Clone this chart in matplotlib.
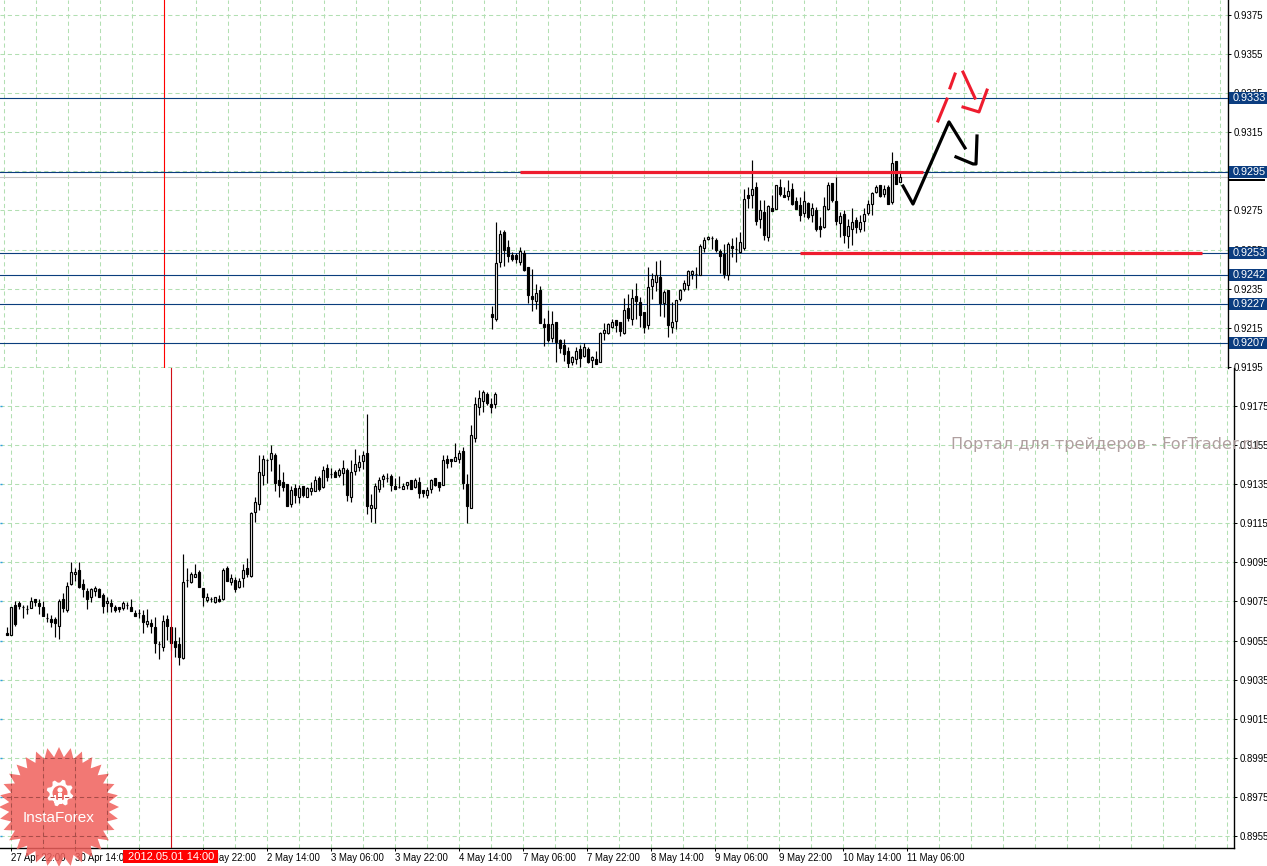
import matplotlib
matplotlib.use('Agg')
import matplotlib.pyplot as plt
from matplotlib.patches import Polygon, Circle, Rectangle
import numpy as np

# quotes in points (1 point = 0.00001), hourly candles, left part of the chart
bot_open = [90590,90580,90730,90740,90721,90713,90718,90761,90740,90720,90667,90658,90658,90626,90761,90708,90837,90888,90909,90837,90803,90771,90801,90812,90783,90740,90740,90720,90720,90718,90730,90720,90689,90689,90679,90634,90638,90617,90532,90518,90658,90617,90549,90532,90459,90858,90847,90876,90899,90817,90759,90761,90749,90761,90761,90919,90847,90859,90825,90868,90919,
    90880,91210,91249,91399,91474,91477,91499,91371,91361,91351,91249,91332,91286,91341,91286,91317,91317,91382,91337,91433,91400,91412,91397,91409,91423,91285,91419,91440,91470,91508,91230,91230,91324,91378,91380,91392,91341,91337,91327,91348,91371,91337,91361,91320,91295,91327,91382,91361,91348,91481,91477,91470,91477,91518,91351,91230,91588,91747,91777,91811,91760,91759]
bot_close = [90580,90720,90634,90728,90721,90713,90750,90749,90728,90677,90667,90646,90638,90750,90718,90827,90899,90899,90825,90812,90761,90812,90817,90771,90728,90750,90728,90706,90709,90740,90730,90699,90677,90689,90646,90648,90626,90539,90532,90648,90624,90539,90518,90467,90847,90858,90888,90888,90825,90771,90771,90761,90771,90750,90909,90856,90868,90815,90856,90909,90888,
    91201,91259,91412,91477,91474,91508,91358,91346,91337,91240,91320,91295,91331,91295,91331,91331,91371,91327,91423,91389,91400,91389,91423,91433,91295,91412,91453,91464,91498,91240,91242,91341,91371,91392,91380,91348,91327,91337,91341,91360,91327,91371,91307,91307,91320,91371,91348,91337,91474,91460,91470,91487,91508,91358,91240,91600,91759,91789,91822,91767,91747,91811]
bot_high = [90617,90720,90750,90750,90730,90730,90771,90761,90761,90750,90689,90679,90668,90761,90791,90849,90950,90919,90950,90863,90817,90817,90827,90817,90791,90774,90761,90730,90723,90750,90747,90761,90706,90709,90706,90709,90658,90668,90546,90679,90679,90621,90617,90570,90992,90921,90900,90941,90911,90817,90791,90771,90774,90783,90919,90931,90888,90876,90868,90941,90970,
    91210,91283,91499,91499,91477,91549,91508,91453,91412,91351,91341,91351,91346,91341,91337,91361,91392,91392,91443,91453,91433,91423,91431,91474,91431,91474,91528,91499,91522,91709,91300,91354,91389,91402,91409,91402,91380,91392,91354,91363,91371,91380,91385,91320,91337,91375,91382,91361,91499,91499,91477,91559,91525,91542,91402,91651,91798,91832,91832,91822,91789,91822]
bot_low = [90578,90578,90624,90709,90665,90685,90716,90726,90685,90675,90645,90617,90566,90558,90697,90697,90834,90856,90817,90771,90709,90749,90778,90771,90689,90697,90697,90697,90697,90706,90709,90699,90675,90663,90590,90621,90587,90484,90457,90498,90552,90501,90467,90426,90457,90825,90842,90873,90825,90726,90749,90747,90740,90749,90757,90856,90836,90800,90817,90825,90873,
    90875,91158,91218,91346,91354,91419,91317,91286,91317,91240,91235,91252,91256,91286,91286,91295,91317,91317,91329,91368,91380,91389,91389,91346,91266,91261,91397,91419,91426,91198,91158,91150,91312,91337,91363,91317,91327,91329,91327,91327,91327,91331,91278,91283,91278,91307,91341,91317,91346,91431,91436,91470,91457,91327,91150,91227,91566,91702,91721,91755,91716,91738]

# candles of the upper part of the chart
top_open = [92220,92196,92488,92640,92561,92524,92520,92488,92530,92459,92312,92288,92343,92169,92169,92097,92179,92087,92062,92033,91975,91988,92039,92005,92039,91985,91988,91976,92125,92125,92155,92189,92179,92125,92251,92196,92312,92282,92230,92166,92363,92384,92411,92278,92343,92155,92186,92299,92346,92367,92425,92426,92418,92558,92605,92607,92599,92544,92527,92418,
    92569,92553,92538,92557,92829,92828,92869,92708,92743,92616,92761,92760,92872,92829,92826,92862,92799,92777,92739,92790,92727,92753,92671,92667,92760,92889,92799,92688,92732,92620,92657,92702,92654,92698,92739,92783,92845,92879,92835,92869,92794,93005,92898]
top_close = [92206,92479,92629,92547,92519,92503,92500,92541,92445,92319,92299,92329,92176,92155,92087,92169,92077,92046,92016,91968,91998,92033,91995,92050,91975,91998,91964,92123,92138,92169,92179,92166,92131,92241,92200,92302,92288,92217,92155,92358,92397,92418,92278,92333,92166,92179,92292,92343,92377,92438,92438,92426,92568,92599,92616,92607,92547,92517,92425,92578,
    92560,92553,92589,92807,92812,92858,92698,92753,92627,92773,92749,92879,92835,92818,92850,92783,92760,92729,92797,92719,92761,92656,92657,92773,92879,92804,92698,92722,92625,92671,92691,92667,92691,92732,92783,92838,92869,92824,92862,92783,92991,92886,92920]
top_high = [92261,92691,92650,92650,92599,92539,92530,92561,92547,92462,92452,92372,92363,92200,92241,92234,92179,92094,92094,92053,92005,92050,92060,92074,92053,92005,92033,92128,92172,92176,92193,92189,92179,92300,92322,92346,92377,92305,92230,92462,92428,92490,92496,92343,92343,92283,92292,92346,92394,92445,92445,92462,92578,92612,92619,92619,92607,92554,92578,92588,
    92610,92616,92642,92858,92869,93008,92898,92804,92804,92776,92829,92879,92910,92872,92906,92889,92821,92821,92852,92795,92787,92770,92719,92821,92896,92889,92923,92744,92753,92705,92761,92719,92727,92761,92804,92847,92879,92879,92879,92881,93049,93005,92940]
top_low = [92143,92186,92459,92466,92488,92493,92479,92471,92442,92278,92237,92247,92176,92058,92077,92077,91976,92022,91978,91941,91959,91964,91947,92002,91971,91944,91964,91976,92087,92118,92149,92130,92108,92118,92183,92166,92193,92155,92125,92145,92299,92339,92210,92206,92101,92121,92142,92288,92336,92343,92397,92353,92418,92537,92599,92551,92539,92432,92404,92394,
    92514,92488,92531,92548,92761,92761,92676,92659,92599,92596,92749,92760,92824,92818,92804,92780,92760,92698,92719,92708,92691,92647,92616,92659,92753,92795,92676,92616,92582,92557,92572,92633,92642,92647,92727,92727,92838,92821,92821,92783,92783,92886,92894]

# levels
level_prices = [0.93327, 0.92946, 0.9253, 0.9242, 0.9227, 0.9207]
level_labels = ['0.9333', '0.9295', '0.9253', '0.9242', '0.9227', '0.9207']
last_price = 0.92921

top_ticks = ['0.9375', '0.9355', '0.9335', '0.9315', '0.9295', '0.9275', '0.9255', '0.9235', '0.9215', '0.9195']
bot_ticks = ['0.9175', '0.9155', '0.9135', '0.9115', '0.9095', '0.9075', '0.9055', '0.9035', '0.9015', '0.8995', '0.8975', '0.8955']

time_labels = ['27 Apr 22:00', '30 Apr 14:00', '1 May 06:00', '1 May 22:00', '2 May 14:00', '3 May 06:00', '3 May 22:00',
               '4 May 14:00', '7 May 06:00', '7 May 22:00', '8 May 14:00', '9 May 06:00', '9 May 22:00', '10 May 14:00', '11 May 06:00']

# hand drawn forecast: bar number / price in the upper part
red_lvl1_x, red_lvl1_y = [7, 107.75], [0.92947, 0.92947]
red_lvl2_x, red_lvl2_y = [77, 177.5], [0.9253, 0.9253]
black_path1_x = [102.75, 105.25, 114.25, 118.25]
black_path1_y = [0.92875, 0.92783, 0.93203, 0.93070]
black_path2_x = [116, 120.25, 121.0, 121.25]
black_path2_y = [0.93024, 0.92988, 0.92988, 0.93131]
red_dash_x = [[111.5, 113.75], [114.5, 115.75], [117.75, 120.75], [117.75, 121.75, 123.75]]
red_dash_y = [[0.93208, 0.93320], [0.93377, 0.93448], [0.93458, 0.93325], [0.93279, 0.93254, 0.93366]]

# layout of the screen in pixels
W, H = 1267, 866
PX_PER_PRICE = 19548.0
SEAM, AXIS_Y = 368, 848
TOP_RIGHT, BOT_RIGHT = 1228, 1234
TOP_BAR0, BOT_BAR0 = 492, 7

GRID = '#b2dfb2'
NAVY = '#0b3d80'
BLUE_LINE = '#0a3d7d'
RED = '#ee1c2e'
TICK_SIZE = 6.9


def price_at(py):
    return 0.9375 - (py - 15) / PX_PER_PRICE


def draw_candles(ax, x, o, h, l, c):
    o, h, l, c = [np.array(v) / 1e5 for v in (o, h, l, c)]
    ax.vlines(x, l, h, color='black', lw=0.85, zorder=4)
    bottom = np.minimum(o, c)
    height = np.abs(c - o)
    colors = ['white' if c[i] > o[i] else 'black' for i in range(len(o))]
    ax.bar(x, height, width=0.6, bottom=bottom, color=colors, edgecolor='black', linewidth=0.85, zorder=5)


def setup_grid(ax, xs, ys):
    for gx in xs:
        ax.axvline(gx, color=GRID, lw=0.75, linestyle=(0, (4, 3)), zorder=1)
    for gy in ys:
        ax.axhline(gy, color=GRID, lw=0.75, linestyle=(0, (4, 3)), zorder=1)


fig = plt.figure(figsize=(W / 100, H / 100), dpi=100, facecolor='white')

ax_top = fig.add_axes([0, (H - SEAM) / H, TOP_RIGHT / W, SEAM / H])
ax_bot = fig.add_axes([0, (H - AXIS_Y) / H, BOT_RIGHT / W, (AXIS_Y - SEAM) / H])
ax_top.set_xlim(-TOP_BAR0 / 4, (TOP_RIGHT - TOP_BAR0) / 4)
ax_bot.set_xlim(-BOT_BAR0 / 4, (BOT_RIGHT - BOT_BAR0) / 4)
ax_top.set_ylim(price_at(SEAM), price_at(0))
ax_bot.set_ylim(price_at(AXIS_Y), price_at(SEAM))

top_tick_pos = [float(t) for t in top_ticks]
bot_tick_pos = [float(t) for t in bot_ticks]

setup_grid(ax_top, np.arange(-122, 184, 8), top_tick_pos)
setup_grid(ax_bot, np.arange(1, 307, 8), bot_tick_pos)

draw_candles(ax_bot, np.arange(len(bot_open)), bot_open, bot_high, bot_low, bot_close)
draw_candles(ax_top, np.arange(len(top_open)), top_open, top_high, top_low, top_close)

# period separators
ax_top.axvline(-82, color='red', lw=0.8, zorder=3)
ax_bot.axvline(41, color='#d01018', lw=0.8, zorder=6)

# levels
ax_top.axhline(last_price, color='#c4c4c4', lw=0.8, zorder=2)
for p in level_prices:
    ax_top.axhline(p, color=BLUE_LINE, lw=0.8, zorder=3)

ax_top.plot(red_lvl1_x, red_lvl1_y, color=RED, lw=2.3, solid_capstyle='butt', zorder=7)
ax_top.plot(red_lvl2_x, red_lvl2_y, color=RED, lw=2.3, solid_capstyle='butt', zorder=7)
ax_top.plot(black_path1_x, black_path1_y, color='black', lw=2.3, zorder=8)
ax_top.plot(black_path2_x, black_path2_y, color='black', lw=2.3, zorder=8)
for xs, ys in zip(red_dash_x, red_dash_y):
    ax_top.plot(xs, ys, color=RED, lw=2.2, zorder=8)

# axes and ticks
for ax in (ax_top, ax_bot):
    for side in ('top', 'left', 'bottom'):
        ax.spines[side].set_visible(False)
    ax.spines['right'].set_linewidth(1.0)
    ax.yaxis.tick_right()
    ax.tick_params(axis='y', length=2.5, width=0.7, pad=1.5, labelsize=TICK_SIZE, labelfontfamily='Liberation Sans')
    ax.patch.set_alpha(0)
ax_top.set_yticks(top_tick_pos, top_ticks)
ax_bot.set_yticks(bot_tick_pos, bot_ticks)
ax_top.set_xticks([])

ax_bot.spines['bottom'].set_visible(True)
ax_bot.spines['bottom'].set_linewidth(1.0)
ax_bot.set_xticks(1 + 16 * np.arange(len(time_labels)), time_labels)
ax_bot.tick_params(axis='x', length=2.5, width=0.7, pad=1.2, labelsize=TICK_SIZE, labelfontfamily='Liberation Sans')
for lab in ax_bot.get_xticklabels():
    lab.set_ha('left')

# small cyan marks at the left edge
ax_bot.hlines(bot_tick_pos, -BOT_BAR0 / 4, -BOT_BAR0 / 4 + 0.4, color='#2f9fe0', lw=1.0, zorder=3)

# price labels on the right side
trans = ax_top.get_yaxis_transform()
box_left = 1229 / TOP_RIGHT
box_w = (W - 1229) / TOP_RIGHT
box_h = 12 / PX_PER_PRICE
for p, lab in zip(level_prices, level_labels):
    ax_top.add_patch(Rectangle((box_left, p - box_h / 2), box_w, box_h, transform=trans,
                               facecolor=NAVY, edgecolor='none', clip_on=False, zorder=10))
    ax_top.text(1233 / TOP_RIGHT, p, lab, transform=trans, color='white', fontsize=7.8, family='Liberation Sans',
                va='center', ha='left', clip_on=False, zorder=11)
ax_top.add_patch(Rectangle((box_left, price_at(181)), 36 / TOP_RIGHT, 2 / PX_PER_PRICE, transform=trans,
                           facecolor='black', edgecolor='none', clip_on=False, zorder=10))

# selected date on the time scale
date_trans = ax_bot.get_xaxis_transform()
scale_h = AXIS_Y - SEAM
ax_bot.add_patch(Rectangle((29, -15 / scale_h), 23.75, 13 / scale_h, transform=date_trans, facecolor='red',
                           edgecolor='none', clip_on=False, zorder=11))
ax_bot.text(41, -8.5 / scale_h, '2012.05.01 14:00', transform=date_trans, color='white', fontsize=8,
            family='Liberation Sans', ha='center', va='center', zorder=12, clip_on=False)

# watermark
fig.text(951 / W, 1 - 444 / H, 'Портал для трейдеров - ForTrader.ru', color='#a89696', alpha=0.9, fontsize=11.6,
         family='DejaVu Sans', ha='left', va='center', zorder=20)

# logo on its own overlay, in screen pixels
ov = fig.add_axes([0, 0, 1, 1], zorder=30)
ov.set_xlim(0, W)
ov.set_ylim(H, 0)
ov.axis('off')
ov.patch.set_alpha(0)

cx, cy = 59, 807
n_spikes = 32
ang = np.linspace(0, 2 * np.pi, 2 * n_spikes, endpoint=False)
rad = np.where(np.arange(2 * n_spikes) % 2 == 0, 60, 50)
star = Polygon(np.column_stack([cx + rad * np.cos(ang), cy + rad * np.sin(ang)]), closed=True,
               facecolor='#f0605c', edgecolor='none', alpha=0.85)
ov.add_patch(star)

# the grid stays visible through the logo
for gx in np.arange(1, 40, 8):
    ln, = ov.plot([gx, gx], [price_at(730), price_at(848)], transform=ax_bot.transData, color='#a84c48', lw=0.75,
                  linestyle=(0, (4, 3)))
    ln.set_clip_path(star)
for gy in bot_tick_pos[-3:]:
    ln, = ov.plot([-2, 40], [gy, gy], transform=ax_bot.transData, color='#a84c48', lw=0.75, linestyle=(0, (4, 3)))
    ln.set_clip_path(star)

gear_x, gear_y = 60, 793
teeth = 8
ang = np.linspace(0, 2 * np.pi, 4 * teeth, endpoint=False) + np.pi / 16
rad = np.where(np.arange(4 * teeth) % 4 < 2, 13.5, 10.5)
ov.add_patch(Polygon(np.column_stack([gear_x + rad * np.cos(ang), gear_y + rad * np.sin(ang)]), closed=True,
                     facecolor='white', edgecolor='none'))
ov.add_patch(Circle((gear_x, gear_y), 7.5, facecolor='#f2716c', edgecolor='none'))
ov.add_patch(Circle((gear_x, gear_y - 3), 2.6, facecolor='white', edgecolor='none'))
ov.add_patch(Rectangle((gear_x - 1.7, gear_y), 3.4, 11, facecolor='white', edgecolor='none'))
ov.add_patch(Rectangle((gear_x - 6.5, gear_y + 2), 2.4, 8, facecolor='white', edgecolor='none'))
ov.add_patch(Rectangle((gear_x + 4.1, gear_y + 2), 2.4, 8, facecolor='white', edgecolor='none'))
ov.text(cx, 818, 'InstaForex', color='white', fontsize=11, family='Liberation Sans', ha='center', va='center')

fig.savefig('out.png', dpi=100)
plt.close(fig)
